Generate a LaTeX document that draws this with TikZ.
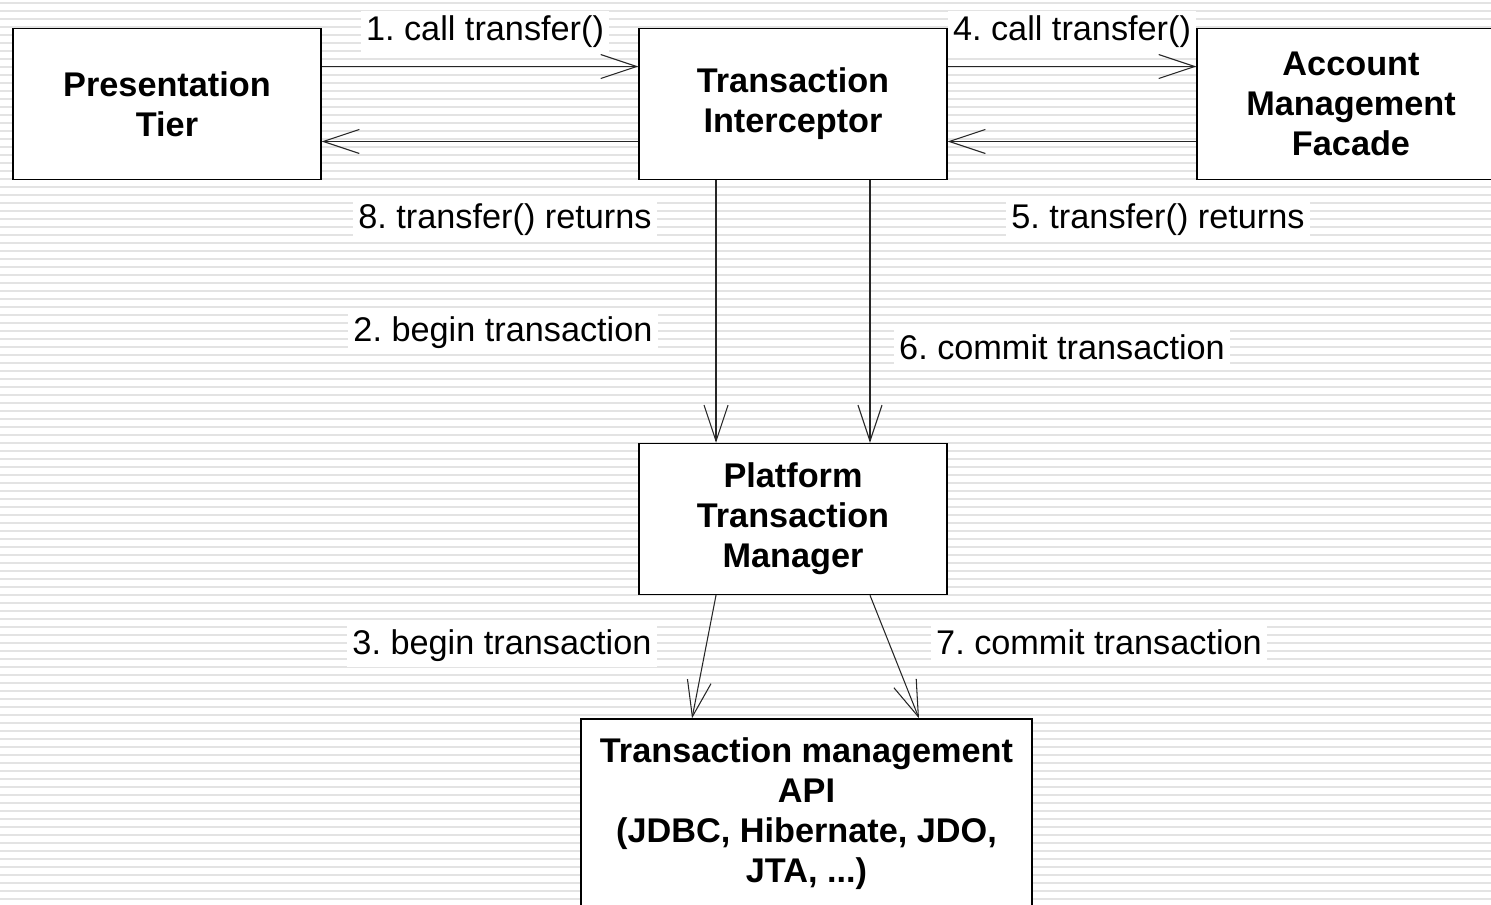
\documentclass[tikz,border=0pt]{standalone}
\usepackage{fontspec}
\setmainfont{Liberation Sans}
\usetikzlibrary{arrows.meta,positioning}
\frenchspacing

\begin{document}
\begin{tikzpicture}[
        x=0.02cm, y=-0.02cm,
        font=\fontsize{19.5}{22.8}\selectfont,
        tier/.style={draw=black, fill=white, line width=0.8pt, align=center, minimum width=6.16cm, minimum height=3.02cm, inner sep=4pt, font=\fontsize{19.5}{22.8}\selectfont\bfseries},
        msg/.style={fill=white, inner sep=3pt},
        link/.style={draw=black!85, line width=0.6pt, -{Straight Barb[length=0.72cm, width=0.48cm, line width=0.6pt]}},
        stripe/.style={draw=gray!22, line width=1.1pt}
    ]
        \clip (0,0) rectangle (1491,905);
        % striped backdrop
        \foreach \k in {0,...,113}
            \draw[stripe] (0,3.3+8*\k) -- (1491,3.3+8*\k);

        \node[tier] (present) at (167,104) {Presentation\\Tier};
        \node[tier] (interceptor) at (793,104) {Transaction\\Interceptor};
        \node[tier] (facade) at (1351,104) {Account\\Management\\Facade};
        \node[tier] (ptm) at (793,519) {Platform\\Transaction\\Manager};
        \node[tier, minimum width=9.02cm, minimum height=3.8cm] (txapi) at (806.5,814) {Transaction management\\API\\(JDBC, Hibernate, JDO,\\JTA, ...)};

        \draw[link] ([yshift=0.75cm]present.east) -- ([yshift=0.75cm]interceptor.west);
        \draw[link] ([yshift=-0.75cm]interceptor.west) -- ([yshift=-0.75cm]present.east);
        \draw[link] ([yshift=0.75cm]interceptor.east) -- ([yshift=0.75cm]facade.west);
        \draw[link] ([yshift=-0.75cm]facade.west) -- ([yshift=-0.75cm]interceptor.east);
        \draw[link] ([xshift=-1.54cm]interceptor.south) -- ([xshift=-1.54cm]ptm.north);
        \draw[link] ([xshift=1.54cm]interceptor.south) -- ([xshift=1.54cm]ptm.north);
        \draw[link] ([xshift=-1.54cm]ptm.south) -- ([xshift=-2.29cm]txapi.north);
        \draw[link] ([xshift=1.54cm]ptm.south) -- ([xshift=2.25cm]txapi.north);

        \node[msg] (m1) at (485,32) {1. call transfer()};
        \node[msg] (m2) at (503,333) {2. begin transaction};
        \node[msg] (m3) at (502,646) {3. begin transaction};
        \node[msg] (m4) at (1072,32) {4. call transfer()};
        \node[msg] (m5) at (1158,220) {5. transfer() returns};
        \node[msg] (m6) at (1062,347) {6. commit transaction};
        \node[msg] (m7) at (1099,642) {7. commit transaction};
        \node[msg] (m8) at (505,220) {8. transfer() returns};
    \end{tikzpicture}
\end{document}
